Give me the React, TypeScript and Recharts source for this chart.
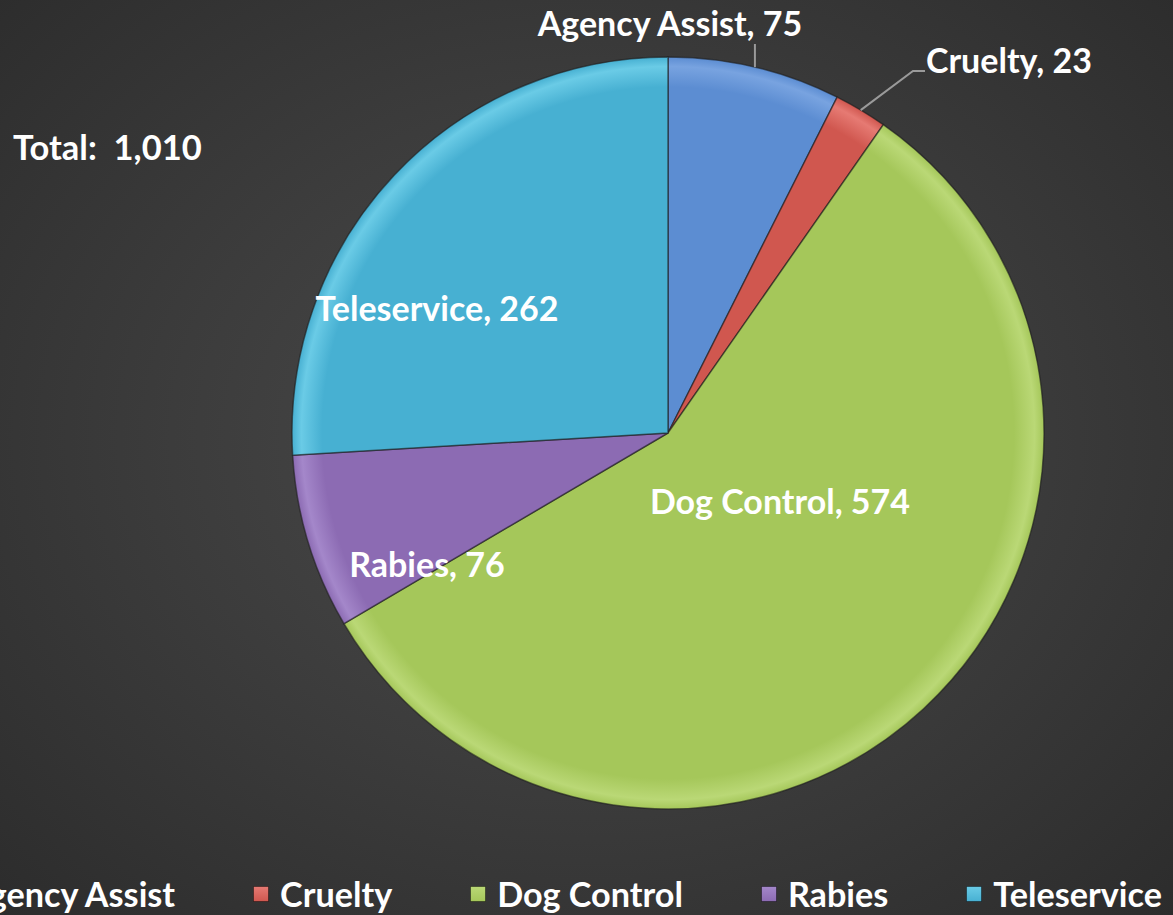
import React from 'react';
import { PieChart, Pie, Cell, Legend } from 'recharts';

const categories = ['Agency Assist', 'Cruelty', 'Dog Control', 'Rabies', 'Teleservice'];
const counts = [75, 23, 574, 76, 262];
const totalLabel = 'Total:  1,010';

const colorsLight = ['#78A3E0', '#E67A73', '#BAD876', '#A487CA', '#6ACBE6'];
const colorsDark = ['#5C8DD2', '#D0574F', '#A5C75A', '#8C6BB3', '#47B0D2'];

// label placement relative to pie centre (px) – annotation layout
const labelPlacement: Record<string, { dx: number; dy: number; anchor: string; leader?: string }> = {
  'Agency Assist': { dx: 2, dy: -411, anchor: 'middle', leader: 'vertical' },
  'Cruelty': { dx: 258, dy: -374, anchor: 'start', leader: 'elbow' },
  'Dog Control': { dx: 112, dy: 67, anchor: 'middle' },
  'Rabies': { dx: -241, dy: 130, anchor: 'middle' },
  'Teleservice': { dx: -231, dy: -126, anchor: 'middle' },
};

const data = categories.map((c, i) => ({ name: c, value: counts[i] }));

const FONT = 'Lato, "Open Sans", sans-serif';
const RAD = Math.PI / 180;

const renderLabel = (props: any) => {
  const { cx, cy, midAngle, outerRadius, name, value } = props;
  const p = labelPlacement[name];
  const x = cx + p.dx;
  const y = cy + p.dy;
  const sx = cx + outerRadius * Math.cos(-midAngle * RAD);
  const sy = cy + outerRadius * Math.sin(-midAngle * RAD);
  let leader: React.ReactNode = null;
  if (p.leader === 'vertical') {
    leader = <path d={`M${sx},${sy} L${sx},${y + 22}`} stroke="#9a9a9a" strokeWidth={2} fill="none" />;
  } else if (p.leader === 'elbow') {
    leader = (
      <path d={`M${sx},${sy} L${x - 13},${y + 12} L${x - 1},${y + 12}`} stroke="#9a9a9a" strokeWidth={2} fill="none" />
    );
  }
  return (
    <g>
      {leader}
      <text x={x} y={y} fill="#ffffff" textAnchor={p.anchor as any} dominantBaseline="central"
        style={{ fontFamily: FONT, fontWeight: 700, fontSize: 34 }}>
        {`${name}, ${value}`}
      </text>
    </g>
  );
};

const renderLegend = () => (
  <div style={{ display: 'flex', alignItems: 'center', whiteSpace: 'nowrap', fontFamily: FONT, fontWeight: 700, fontSize: 34.2, color: '#fff' }}>
    {categories.map((c, i) => (
      <div key={c} style={{ display: 'flex', alignItems: 'center', marginRight: i < categories.length - 1 ? 78 : 0 }}>
        <svg width={16} height={16} style={{ marginRight: 11 }}>
          <defs>
            <linearGradient id={`lg${i}`} x1="0" y1="0" x2="0" y2="1">
              <stop offset="0" stopColor={colorsLight[i]} />
              <stop offset="1" stopColor={colorsDark[i]} />
            </linearGradient>
          </defs>
          <rect x={0.5} y={0.5} width={15} height={15} fill={`url(#lg${i})`} stroke="rgba(0,0,0,0.4)" />
        </svg>
        <span>{c}</span>
      </div>
    ))}
  </div>
);

export default function App() {
  return (
    <div style={{ position: 'absolute', left: 0, top: 0, width: 1173, height: 915, overflow: 'hidden',
      background: 'radial-gradient(ellipse at 50% 48%, #4b4b4b 0%, #3c3c3c 50%, #2c2c2c 100%)' }}>
      <div style={{ position: 'absolute', left: 13, top: 126, color: '#fff', fontFamily: FONT, fontWeight: 700, fontSize: 34.5, whiteSpace: 'pre' }}>
        {totalLabel}
      </div>
      <PieChart width={1173} height={915} margin={{ top: 0, right: 0, bottom: 0, left: 0 }} style={{ position: 'absolute', left: 0, top: 0 }}>
        <defs>
          {categories.map((c, i) => (
            <radialGradient key={c} id={`pg${i}`} cx="668" cy="433" r="376" gradientUnits="userSpaceOnUse">
              <stop offset="0" stopColor={colorsDark[i]} />
              <stop offset="0.92" stopColor={colorsDark[i]} />
              <stop offset="0.975" stopColor={colorsLight[i]} />
              <stop offset="1" stopColor={colorsDark[i]} />
            </radialGradient>
          ))}
        </defs>
        <Pie
          data={data}
          dataKey="value"
          nameKey="name"
          cx={668}
          cy={433}
          outerRadius={376}
          startAngle={90}
          endAngle={-270}
          isAnimationActive={false}
          label={renderLabel}
          labelLine={false}
          stroke="rgba(30,30,30,0.6)"
          strokeWidth={1.5}
        >
          {data.map((d, i) => (
            <Cell key={d.name} fill={`url(#pg${i})`} />
          ))}
        </Pie>
        <Legend content={renderLegend} wrapperStyle={{ position: 'absolute', left: -62, top: 873, width: 'auto' }} />
      </PieChart>
    </div>
  );
}
